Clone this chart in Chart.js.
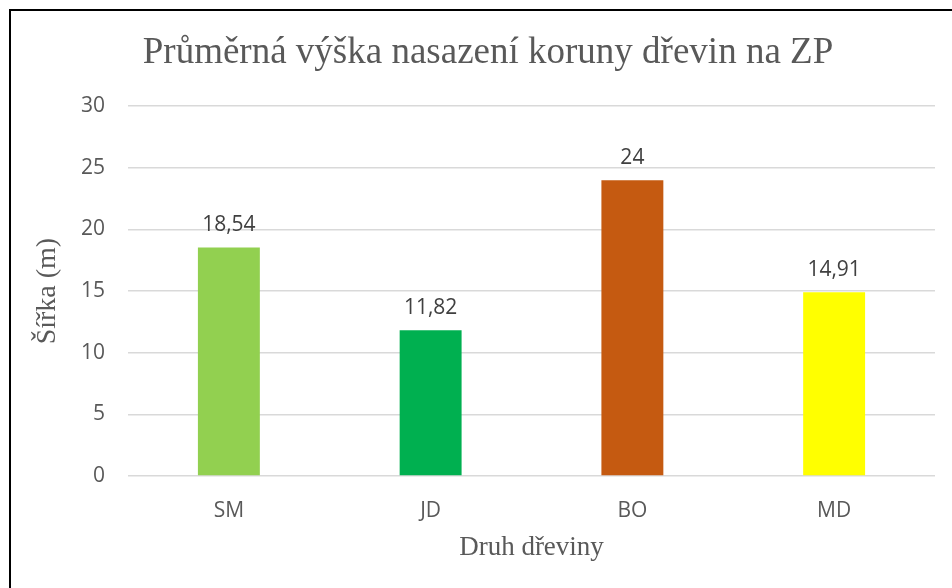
<!DOCTYPE html>
<html>
<head>
<meta charset="utf-8">
<script src="https://cdn.jsdelivr.net/npm/chart.js@4/dist/chart.umd.min.js"></script>
<style>
  html, body { margin: 0; padding: 0; background: #fff; overflow: hidden; }
  #wrap { position: absolute; left: 0; top: 0; width: 952px; height: 588px; }
  #frame { position: absolute; left: 9px; top: 9px; width: 960px; height: 600px;
           border-left: 2px solid #000; border-top: 2px solid #000; pointer-events: none; }
</style>
</head>
<body>
<div id="wrap"><canvas id="c" width="952" height="588"></canvas></div>
<div id="frame"></div>
<script>
const categories = ['SM', 'JD', 'BO', 'MD'];
const values = [18.54, 11.82, 24, 14.91];
const valueLabels = ['18,54', '11,82', '24', '14,91'];
const barColors = ['#92D050', '#00B050', '#C55A11', '#FFFF00'];
const yTicks = [0, 5, 10, 15, 20, 25, 30];
const chartTitle = 'Průměrná výška nasazení koruny dřevin na ZP';
const xTitle = 'Druh dřeviny';
const yTitle = 'Šířka (m)';

const TEXT = '#595959';
const SANS = '"Open Sans", "Liberation Sans", sans-serif';
const SERIF = '"Liberation Serif", "DejaVu Serif", serif';

const dataLabelPlugin = {
  id: 'dataLabels',
  afterDatasetsDraw(chart) {
    const ctx = chart.ctx;
    const meta = chart.getDatasetMeta(0);
    ctx.save();
    ctx.font = '21px ' + SANS;
    ctx.fillStyle = '#404040';
    ctx.textAlign = 'center';
    ctx.textBaseline = 'bottom';
    meta.data.forEach((bar, i) => {
      ctx.fillText(valueLabels[i], bar.x, bar.y - 12);
    });
    ctx.restore();
  }
};

const titlePlugin = {
  id: 'centeredTitle',
  afterDraw(chart) {
    const ctx = chart.ctx;
    ctx.save();
    ctx.font = '37px ' + SERIF;
    ctx.fillStyle = TEXT;
    ctx.textAlign = 'center';
    ctx.textBaseline = 'middle';
    ctx.fillText(chartTitle, 488, 53);
    ctx.restore();
  }
};

new Chart(document.getElementById('c'), {
  type: 'bar',
  data: {
    labels: categories,
    datasets: [{
      data: values,
      backgroundColor: barColors,
      borderWidth: 0,
      barPercentage: 0.307,
      categoryPercentage: 1.0
    }]
  },
  options: {
    responsive: false,
    animation: false,
    devicePixelRatio: 1,
    layout: { padding: { left: 0, right: 17, top: 0, bottom: 0 } },
    plugins: {
      legend: { display: false },
      tooltip: { enabled: false },
      title: {
        display: true,
        text: chartTitle,
        color: 'rgba(0,0,0,0)',
        font: { family: SERIF, size: 31, weight: 'normal', lineHeight: 1.2 },
        padding: { top: 33, bottom: 36 }
      }
    },
    scales: {
      x: {
        grid: { display: false, drawTicks: false },
        border: { display: false },
        ticks: { color: TEXT, font: { family: SANS, size: 21 }, padding: 22 },
        title: {
          display: true, text: xTitle, color: TEXT,
          font: { family: SERIF, size: 27, lineHeight: 1.2 },
          padding: { top: 2, bottom: 24 }
        },
        afterFit(scale) { scale.height = 112; }
      },
      y: {
        min: 0, max: 30,
        afterBuildTicks(scale) { scale.ticks = yTicks.map(v => ({ value: v })); },
        grid: { color: '#D9D9D9', lineWidth: 1.5, drawTicks: false },
        border: { display: false },
        ticks: { color: TEXT, font: { family: SANS, size: 21 }, padding: 23 },
        title: {
          display: true, text: yTitle, color: TEXT,
          font: { family: SERIF, size: 28, lineHeight: 1.2 },
          padding: { top: 31, bottom: 2 }
        },
        afterFit(scale) { scale.width = 128; }
      }
    }
  },
  plugins: [dataLabelPlugin, titlePlugin]
});
</script>
</body>
</html>
